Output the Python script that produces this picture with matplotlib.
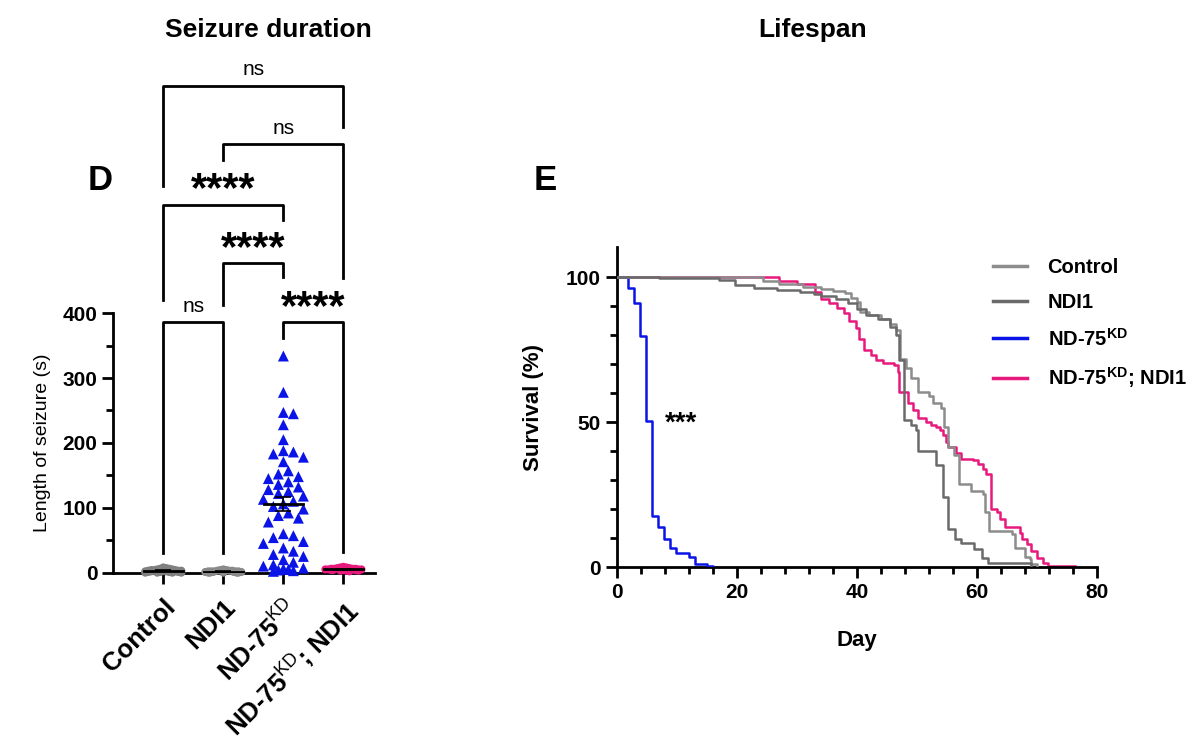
import numpy as np
import matplotlib.pyplot as plt
from matplotlib.ticker import MultipleLocator
from matplotlib.lines import Line2D

plt.rcParams['font.family'] = ['Liberation Sans', 'DejaVu Sans']
plt.rcParams['mathtext.fontset'] = 'custom'
plt.rcParams['mathtext.rm'] = 'Liberation Sans'
plt.rcParams['mathtext.bf'] = 'Liberation Sans:bold'

# ---- seizure duration data (s) ----
groups = ["Control", "NDI1", "ND-75$^{\\mathrm{KD}}$", "ND-75$^{\\mathrm{KD}}$; NDI1"]
control_sz = [0, 0, 0, 1, 1, 1, 2, 2, 2, 3, 3, 3, 4, 4, 5, 5, 6, 6, 7, 8, 0, 1, 2, 3, 4]
ndi1_sz = [0, 0, 0, 0, 1, 1, 1, 1, 2, 2, 2, 2, 3, 3, 3, 4, 4, 5, 0, 1, 2]
nd75_sz = [334, 278, 247, 245, 228, 205, 188, 186, 183, 178, 171, 157, 152, 148, 145,
           140, 136, 132, 128, 125, 122, 118, 113, 110, 106, 102, 98, 92, 88, 84, 78,
           60, 57, 54, 48, 45, 38, 33, 28, 25, 20, 16, 12, 10, 7, 6, 5, 4, 3, 2]
rescue_sz = [2, 3, 3, 4, 4, 5, 5, 5, 6, 6, 6, 7, 7, 8, 8, 9, 3, 4, 5, 6, 4]
sz_data = [control_sz, ndi1_sz, nd75_sz, rescue_sz]
sz_colors = ["#808080", "#8a8a8a", "#0a14e6", "#e8197d"]
sz_markers = ["o", "o", "^", "o"]

# ---- lifespan (Kaplan-Meier steps) ----
ctrl_day = [0, 24.3, 27, 31, 34, 36, 38, 39, 40, 40.5, 42, 44, 45.5, 46.5, 47.2, 48.2,
            49, 50.2, 52.1, 52.7, 54.1, 54.6, 55.2, 56.2, 57.1, 59.1, 61, 61.3, 62.1, 65.8,
            66.3, 68, 68.8, 69.1, 70]
ctrl_surv = [100, 98.8, 97.6, 96.8, 96, 95.2, 94.5, 93, 91.5, 88, 87, 85.5,
             84, 82, 72, 68.7, 65.2, 60.6, 58.9, 56.6, 54.8, 48.4, 41.5, 38.6, 28.7, 26.4,
             25.3, 18.9, 12.5, 11.4, 6.7, 3.5, 2.7, 0.9, 0]
ndi1_day = [0, 7, 17, 19.7, 22.8, 26.7, 30.6, 32.8, 34, 36.5, 38.5, 40, 41.5, 43.5, 45.5,
            46.5, 47.1, 47.9, 49, 49.9, 50.2, 53.2, 54.3, 55.2, 56.3, 57.4, 59.6, 60.8,
            61.9, 69.1]
ndi1_surv = [100, 99.7, 99.0, 97.3, 96.5, 95.7, 95.0, 94.2, 93.6, 92.5, 91, 89, 87, 85.5,
             83, 80, 71.6, 50.7, 49, 47.3, 40, 35.1, 24.1, 13.1, 9.6, 8.4, 6.1, 3.2, 1.5, 0]
nd75_day = [0, 1.8, 2.9, 3.9, 4.8, 5.9, 6.9, 7.8, 8.9, 9.9, 12.1, 13, 15, 16.1]
nd75_surv = [100, 96.5, 91.3, 79.7, 50.4, 17.7, 13.7, 9.8, 6.7, 5, 3.5, 1.2, 0.4, 0]
resc_day = [0, 27, 30, 33.1, 34.1, 35.3, 36.7, 37.9, 38.7, 39.8, 40.4, 41.2, 42.3, 43.2,
            44.3, 46.2, 46.8, 47.1, 48.5, 49.3, 50.2, 51.5, 52.4, 53.2, 53.8, 54.3, 54.9,
            55.2, 56.6, 57.4, 59.4, 60.2, 61, 61.6, 62.4, 63.3, 63.8, 64.7, 67.2, 67.5,
            68.3, 69.1, 70, 71.1, 71.9, 76.4]
resc_surv = [100, 98.8, 97.9, 94.8, 92.5, 91.3, 89.6, 87.8, 84.9, 82.6, 78.6, 75.1, 73.3,
             71.6, 70.5, 69.9, 67.5, 60.6, 56.6, 54.2, 51.3, 50.2, 49, 48.2, 47.3, 45.5,
             43.2, 41.5, 39.2, 37.4, 36.8, 35.7, 34, 32.2, 20, 18.9, 16.6, 13.7, 11.9, 9.6,
             7.9, 5.6, 3.2, 1.5, 0.3, 0.3]


def swarm(vals, xscale, yscale, d, maxw):
    # simple deterministic beeswarm, distances in pixels, width capped
    order = np.argsort(vals)[::-1]
    placed = []
    offs = np.zeros(len(vals))
    cands = [0]
    for k in range(1, 40):
        cands += [k * d * 0.5, -k * d * 0.5]
    cands = [c for c in cands if abs(c) <= maxw]
    for n, i in enumerate(order):
        y = vals[i] * yscale
        best = None
        for c in cands:
            if all((c - px) ** 2 + (y - py) ** 2 >= d ** 2 for px, py in placed):
                best = c
                break
        if best is None:
            # band is full: spread remaining evenly
            best = cands[n % len(cands)]
        placed.append((best, y))
        offs[i] = best / xscale
    return offs


fig = plt.figure(figsize=(12, 7.52), dpi=100)

# ---------------- panel D ----------------
ax = fig.add_axes([0.0944, 0.2385, 0.2183, 0.345])
for i, (vals, col, mk) in enumerate(zip(sz_data, sz_colors, sz_markers)):
    vals = np.array(vals, dtype=float)
    if mk == "^":
        xo = swarm(vals, 60.0, 0.6485, 10.0, 22)
        ax.scatter(i + xo, vals, s=62, marker=mk, color=col, edgecolor='none',
                   zorder=3, clip_on=False)
    else:
        xo = swarm(vals, 60.0, 0.6485, 3.0, 18)
        ax.scatter(i + xo, vals, s=34, marker=mk, color=col, edgecolor='none',
                   zorder=3, clip_on=False)
    m = vals.mean()
    se = vals.std(ddof=1) / np.sqrt(len(vals))
    ax.plot([i - 0.32, i + 0.32], [m, m], color='black', lw=2, zorder=4)
    ax.errorbar(i, m, yerr=se, color='black', lw=1.2, capsize=6, capthick=1.2, zorder=4)

ax.set_xlim(-0.833, 3.53)
ax.set_ylim(0, 400)
ax.yaxis.set_major_locator(MultipleLocator(100))
ax.yaxis.set_minor_locator(MultipleLocator(50))
ax.set_xticks(range(4))
ax.set_xticklabels(groups, rotation=45, ha='right', rotation_mode='anchor',
                   fontsize=18.5, fontweight='bold')
for lab in ax.get_yticklabels():
    lab.set_fontweight('bold')
ax.tick_params(axis='y', which='major', labelsize=15, width=2, length=8)
ax.tick_params(axis='x', which='major', width=2, length=8, pad=8)
ax.tick_params(axis='y', which='minor', width=2, length=5)
for s in ['top', 'right']:
    ax.spines[s].set_visible(False)
for s in ['left', 'bottom']:
    ax.spines[s].set_linewidth(2)
ax.set_ylabel("Length of seizure (s)", fontsize=14, labelpad=8)

# significance brackets: (x1, x2, top, left end, right end, text, text y)
brackets = [
    (0, 1, 386.6, 30.4, 30.4, "ns", 402),
    (2, 3, 386.6, 362, 32, "****", 391),
    (1, 2, 477.6, 412.8, 456, "****", 482),
    (0, 2, 567, 420.7, 543.6, "****", 573),
    (1, 3, 661, 636, 454, "ns", 677),
    (0, 3, 750.5, 596, 687, "ns", 768),
]
for x1, x2, top, yl, yr, txt, ty in brackets:
    ax.plot([x1, x1, x2, x2], [yl, top, top, yr], color='black', lw=2, clip_on=False)
    if txt == "ns":
        ax.text((x1 + x2) / 2, ty, txt, ha='center', va='baseline', fontsize=15,
                clip_on=False)
    else:
        ax.text((x1 + x2) / 2, ty, txt, ha='center', va='baseline', fontsize=30,
                fontweight='bold', clip_on=False)

fig.text(268 / 1200, 1 - 30 / 752, "Seizure duration", ha='center', va='center',
         fontsize=19, fontweight='bold')
fig.text(100 / 1200, 1 - 180 / 752, "D", ha='center', va='center', fontsize=25,
         fontweight='bold')

# ---------------- panel E ----------------
ax2 = fig.add_axes([0.514, 0.246, 0.4, 0.4255])
ax2.step(resc_day, resc_surv, where='post', color='#e8197d', lw=1.8, zorder=2)
ax2.step(nd75_day, nd75_surv, where='post', color='#0a14e6', lw=1.8, zorder=3)
ax2.step(ctrl_day, ctrl_surv, where='post', color='#8c8c8c', lw=1.8, zorder=4)
ax2.step(ndi1_day, ndi1_surv, where='post', color='#6a6a6a', lw=1.8, zorder=4)
ax2.text(8, 47, "***", fontsize=20, fontweight='bold', va='baseline', ha='left')

ax2.set_xlim(0, 80)
ax2.set_ylim(0, 110.5)
ax2.set_xticks([0, 20, 40, 60, 80])
ax2.xaxis.set_minor_locator(MultipleLocator(4))
ax2.set_yticks([0, 50, 100])
ax2.set_yticks(np.arange(0, 101, 10), minor=True)
ax2.tick_params(axis='both', which='major', labelsize=15, width=2, length=8)
ax2.tick_params(axis='both', which='minor', width=2, length=5)
for lab in ax2.get_xticklabels() + ax2.get_yticklabels():
    lab.set_fontweight('bold')
for s in ['top', 'right']:
    ax2.spines[s].set_visible(False)
for s in ['left', 'bottom']:
    ax2.spines[s].set_linewidth(2)
ax2.set_xlabel("Day", fontsize=16, fontweight='bold', labelpad=20)
ax2.set_ylabel("Survival (%)", fontsize=16, fontweight='bold', labelpad=16)

handles = [Line2D([], [], color='#8c8c8c', lw=2.5),
           Line2D([], [], color='#6a6a6a', lw=2.5),
           Line2D([], [], color='#0a14e6', lw=2.5),
           Line2D([], [], color='#e8197d', lw=2.5)]
labels = ["Control", "NDI1", "ND-75$^{\\mathbf{KD}}$", "ND-75$^{\\mathbf{KD}}$; NDI1"]
leg = fig.legend(handles, labels, loc='upper left', bbox_to_anchor=(975 / 1200, 1 - 240 / 752),
                 frameon=False, handlelength=1.7, handletextpad=1.0, labelspacing=0.78,
                 prop={'size': 14.5, 'weight': 'bold'})

fig.text(813 / 1200, 1 - 30 / 752, "Lifespan", ha='center', va='center',
         fontsize=19, fontweight='bold')
fig.text(545 / 1200, 1 - 180 / 752, "E", ha='center', va='center', fontsize=25,
         fontweight='bold')

fig.savefig("out.png", dpi=100)
